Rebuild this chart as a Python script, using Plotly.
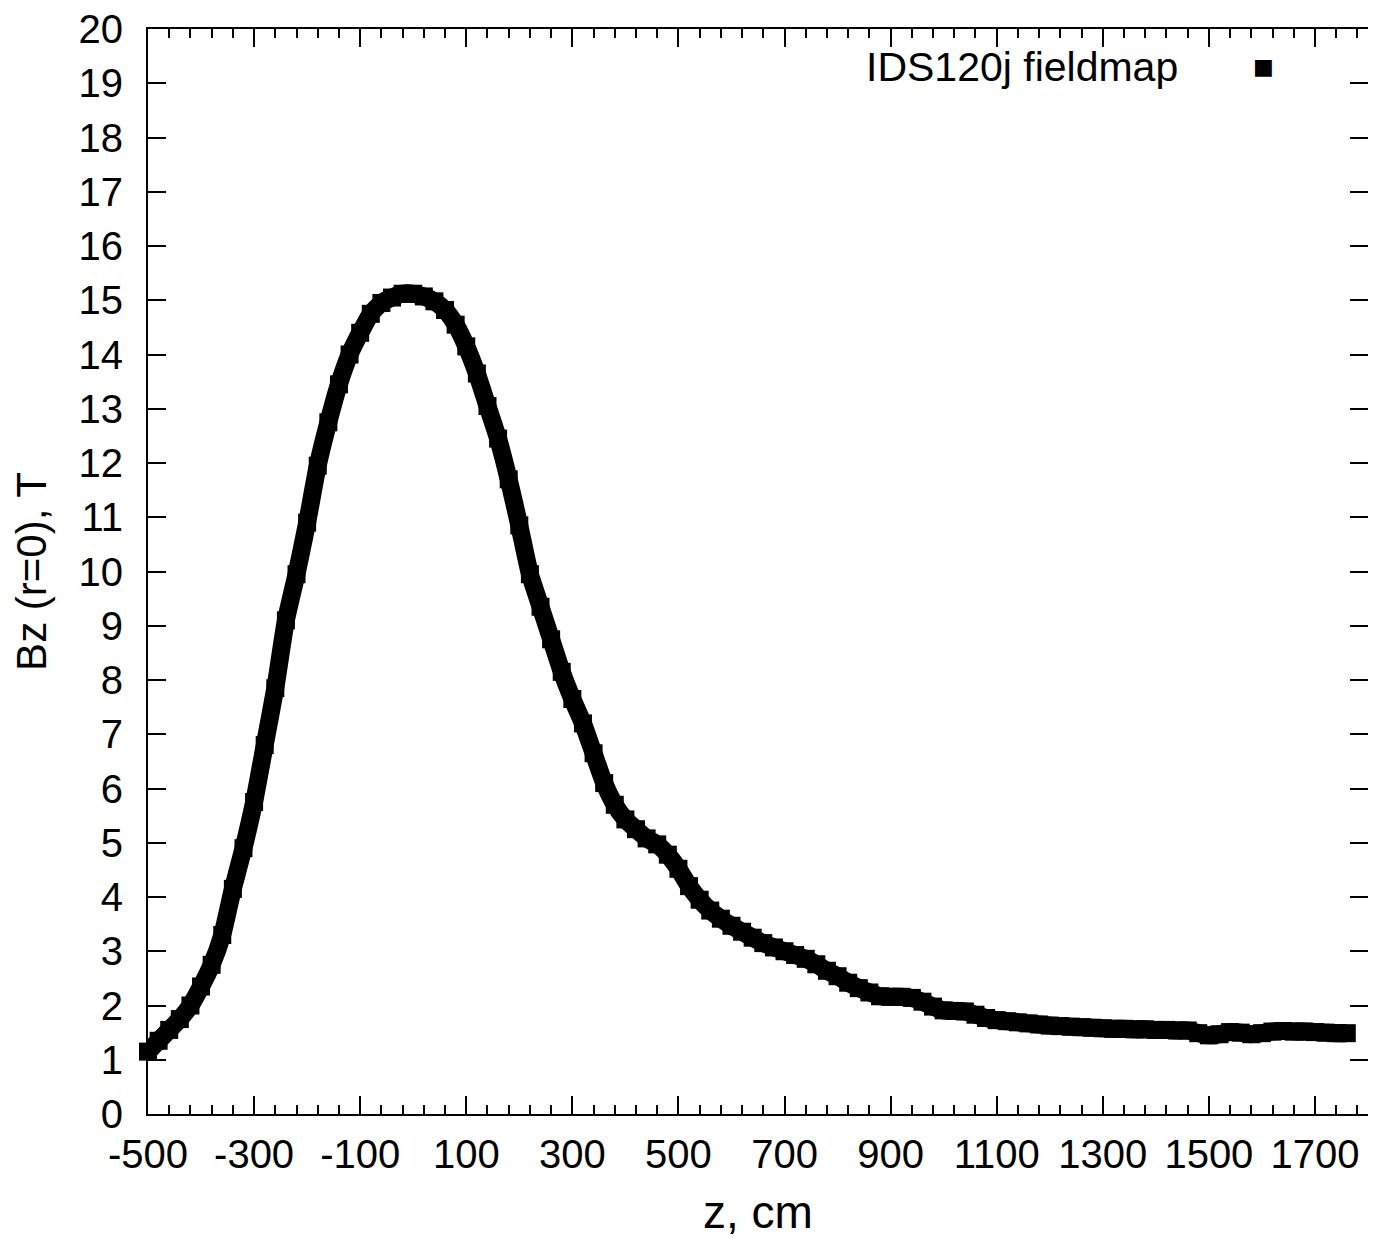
import plotly.graph_objects as go

# z position along the axis (cm) and on-axis field Bz(r=0) in tesla
z_cm = [-500, -480, -460, -440, -420, -400, -380, -360, -340, -320,
        -300, -280, -260, -240, -220, -200, -180, -160, -140, -120,
        -100, -80, -60, -40, -20, 0, 20, 40, 60, 80,
        100, 120, 140, 160, 180, 200, 220, 240, 260, 280,
        300, 320, 340, 360, 380, 400, 420, 440, 460, 480,
        500, 520, 540, 560, 580, 600, 620, 640, 660, 680,
        700, 720, 740, 760, 780, 800, 820, 840, 860, 880,
        900, 920, 940, 960, 980, 1000, 1020, 1040, 1060, 1080,
        1100, 1120, 1140, 1160, 1180, 1200, 1220, 1240, 1260, 1280,
        1300, 1320, 1340, 1360, 1380, 1400, 1420, 1440, 1460, 1480,
        1500, 1520, 1540, 1560, 1580, 1600, 1620, 1640, 1660, 1680,
        1700, 1720, 1740, 1760]

bz_tesla = [1.15, 1.35, 1.55, 1.75, 2.0, 2.35, 2.75, 3.3, 4.15, 4.9,
            5.75, 6.8, 7.85, 9.1, 9.95, 10.9, 11.95, 12.75, 13.45, 14.0,
            14.4, 14.75, 14.95, 15.05, 15.12, 15.12, 15.07, 14.98, 14.82, 14.55,
            14.15, 13.65, 13.05, 12.45, 11.7, 10.85, 9.95, 9.35, 8.75, 8.15,
            7.65, 7.2, 6.65, 6.1, 5.7, 5.43, 5.25, 5.08, 4.97, 4.78,
            4.52, 4.2, 3.95, 3.75, 3.6, 3.47, 3.36, 3.25, 3.15, 3.07,
            3.0, 2.93, 2.86, 2.76, 2.64, 2.54, 2.42, 2.32, 2.24, 2.17,
            2.16, 2.16, 2.14, 2.07, 1.98, 1.91, 1.90, 1.89, 1.83, 1.77,
            1.73, 1.71, 1.69, 1.67, 1.65, 1.63, 1.62, 1.61, 1.60, 1.59,
            1.58, 1.57, 1.57, 1.56, 1.56, 1.55, 1.55, 1.54, 1.54, 1.49,
            1.45, 1.47, 1.51, 1.50, 1.47, 1.49, 1.52, 1.53, 1.52, 1.52,
            1.51, 1.50, 1.49, 1.49]

x_tick_vals = [-500, -300, -100, 100, 300, 500, 700, 900, 1100, 1300, 1500, 1700]
x_tick_text = ['-500', '-300', '-100', '100', '300', '500', '700', '900',
               '1100', '1300', '1500', '1700']
y_tick_vals = list(range(0, 21))

series_name = "IDS120j fieldmap"

FONT = "Liberation Sans, Arial, Helvetica, sans-serif"

fig = go.Figure()

# thick band of square points, like gnuplot's "with points pt 5"
fig.add_trace(go.Scatter(
    x=z_cm,
    y=bz_tesla,
    mode='lines+markers',
    line=dict(color='black', width=18, shape='spline', smoothing=0.5),
    marker=dict(symbol='square', size=18, color='black', line=dict(width=0)),
    cliponaxis=False,
    showlegend=False,
    name=series_name,
))

axis_common = dict(
    showline=True,
    linewidth=2,
    linecolor='black',
    mirror='ticks',
    ticks='inside',
    tickwidth=2,
    tickcolor='black',
    showgrid=False,
    zeroline=False,
    automargin=False,
    tickangle=0,
    tickfont=dict(family=FONT, size=40, color='black'),
    fixedrange=True,
)

# page body has an 8px margin, so the figure is a bit smaller than the window
fig.update_layout(
    width=1368,
    height=1230,
    margin=dict(l=140, r=8, t=21, b=124),
    paper_bgcolor='white',
    plot_bgcolor='white',
    font=dict(family=FONT, color='black'),
    xaxis=dict(
        axis_common,
        range=[-500, 1800],
        tickmode='array',
        tickvals=x_tick_vals,
        ticktext=x_tick_text,
        ticklen=18,
        ticklabelstandoff=4,
        minor=dict(ticks='inside', ticklen=9, tickwidth=2, tickcolor='black', dtick=40, tick0=-500),
        title=dict(text='z, cm', font=dict(family=FONT, size=46), standoff=31),
    ),
    yaxis=dict(
        axis_common,
        range=[0, 20],
        tickmode='array',
        tickvals=y_tick_vals,
        ticklen=18,
        ticklabelstandoff=15,
        title=dict(text='Bz (r=0), T', font=dict(family=FONT, size=42), standoff=21),
    ),
    annotations=[
        dict(text=series_name, xref='paper', yref='paper', x=0.846, y=0.965,
             xanchor='right', yanchor='middle', showarrow=False,
             font=dict(family=FONT, size=41, color='black')),
        dict(text='■', xref='paper', yref='paper', x=0.914, y=0.965,
             xanchor='center', yanchor='middle', showarrow=False,
             font=dict(family='DejaVu Sans', size=22, color='black')),
    ],
)

fig.write_html("out.html")
